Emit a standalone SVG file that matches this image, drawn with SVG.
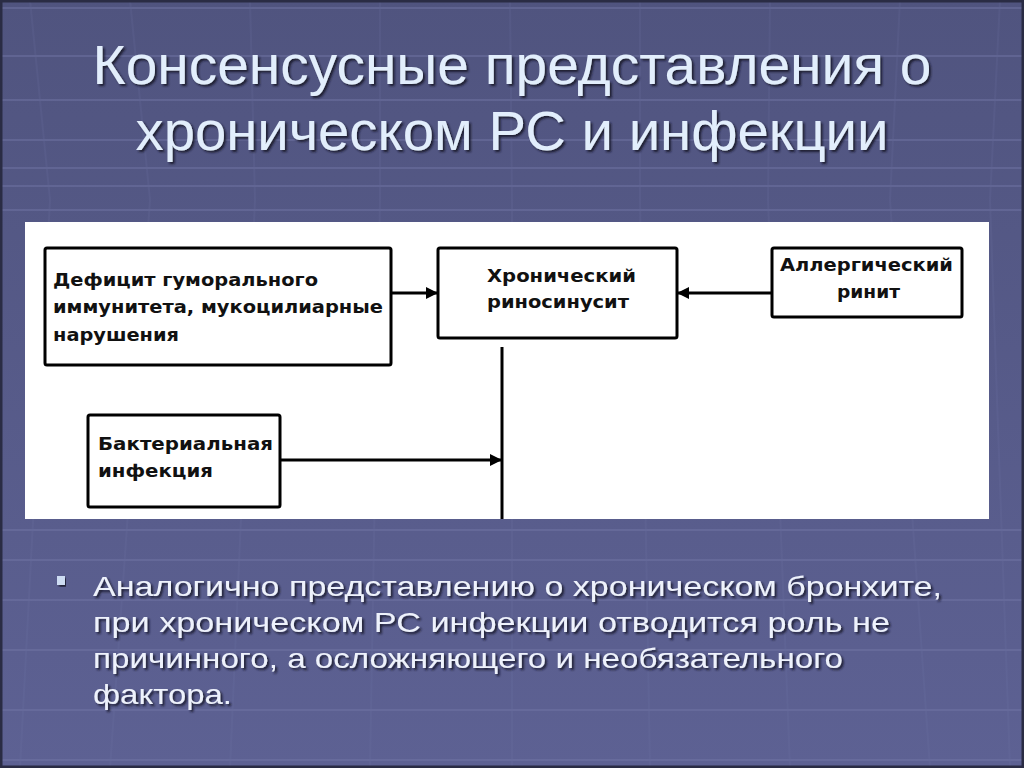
<svg xmlns="http://www.w3.org/2000/svg" width="1024" height="768" viewBox="0 0 1024 768">
<defs>
<linearGradient id="bg" x1="0" y1="0" x2="0" y2="1">
<stop offset="0" stop-color="#50547f"/>
<stop offset="1" stop-color="#5d6193"/>
</linearGradient>
<filter id="sh" x="-5%" y="-20%" width="110%" height="140%">
<feDropShadow dx="2" dy="2" stdDeviation="0.8" flood-color="#15152a" flood-opacity="0.9"/>
</filter>
<marker id="ah" viewBox="0 0 12 12" refX="11" refY="6" markerWidth="12" markerHeight="12" markerUnits="userSpaceOnUse" orient="auto">
<path d="M0,0 L12,6 L0,12 Z" fill="#000"/>
</marker>
<style>
.title{font-family:"Liberation Sans",Arial,sans-serif;font-size:56px;fill:#e2eefc;filter:url(#sh)}
.body{font-family:"Liberation Sans",Arial,sans-serif;font-size:28px;fill:#eef2fc;filter:url(#sh)}
.box{fill:#fff;stroke:#000;stroke-width:3;}
.lbl{font-family:"DejaVu Sans",Verdana,sans-serif;font-weight:bold;font-size:18px;fill:#111}
.conn{stroke:#000;stroke-width:3;fill:none}
.grid{stroke:#7478a8;stroke-width:2;opacity:0.45;fill:none}
</style>
</defs>
<rect x="0" y="0" width="1024" height="768" fill="url(#bg)"/>
<g class="grid">
<path d="M0,8H1024 M0,56H1024 M0,100H1024 M0,140H1024 M0,168H1024 M0,186H1024 M0,210H1024 M0,530H1024 M0,560H1024 M0,600H1024 M0,650H1024 M0,710H1024 M0,760H1024"/>
<path d="M30,0 L50,200 L20,768 M130,0 L150,200 L110,768 M250,0 L255,200 L230,768 M380,0 L380,200 L370,768 M510,0 L512,200 L512,768 M640,0 L640,200 L650,768 M770,0 L768,200 L790,768 M900,0 L890,200 L930,768 M1000,0 L990,200 L1010,768" opacity="0.35"/>
</g>
<rect x="1" y="1" width="1022" height="766" fill="none" stroke="#2a2c44" stroke-width="3"/>
<text class="title" x="512" y="84" text-anchor="middle" textLength="839" lengthAdjust="spacingAndGlyphs">Консенсусные представления о</text>
<text class="title" x="512" y="150" text-anchor="middle" textLength="753" lengthAdjust="spacingAndGlyphs">хроническом РС и инфекции</text>
<rect x="25" y="222" width="964" height="297" fill="#ffffff"/>
<g id="connectors">
<line class="conn" x1="391" y1="293" x2="437" y2="293" marker-end="url(#ah)"/>
<line class="conn" x1="772" y1="293" x2="678" y2="293" marker-end="url(#ah)"/>
<line class="conn" x1="502" y1="347" x2="502" y2="519"/>
<line class="conn" x1="280" y1="460" x2="501" y2="460" marker-end="url(#ah)"/>
</g>
<g id="node-deficit">
<rect class="box" x="45" y="248" width="346" height="117" rx="2"/>
<text class="lbl" x="53" y="286" textLength="265" lengthAdjust="spacingAndGlyphs">Дефицит гуморального</text>
<text class="lbl" x="53" y="313" textLength="330" lengthAdjust="spacingAndGlyphs">иммунитета, мукоцилиарные</text>
<text class="lbl" x="53" y="341" textLength="126" lengthAdjust="spacingAndGlyphs">нарушения</text>
</g>
<g id="node-crs">
<rect class="box" x="438" y="248" width="239" height="90" rx="2"/>
<text class="lbl" x="487" y="282" textLength="149" lengthAdjust="spacingAndGlyphs">Хронический</text>
<text class="lbl" x="487" y="308" textLength="142" lengthAdjust="spacingAndGlyphs">риносинусит</text>
</g>
<g id="node-allergy">
<rect class="box" x="772" y="248" width="190" height="69" rx="2"/>
<text class="lbl" x="780" y="271" textLength="173" lengthAdjust="spacingAndGlyphs">Аллергический</text>
<text class="lbl" x="837" y="298" textLength="63" lengthAdjust="spacingAndGlyphs">ринит</text>
</g>
<g id="node-bacterial">
<rect class="box" x="88" y="415" width="192" height="92" rx="2"/>
<text class="lbl" x="98" y="450" textLength="175" lengthAdjust="spacingAndGlyphs">Бактериальная</text>
<text class="lbl" x="98" y="477" textLength="115" lengthAdjust="spacingAndGlyphs">инфекция</text>
</g>
<rect x="57" y="576" width="8" height="9" fill="#cddcf2" filter="url(#sh)"/>
<text class="body" x="93" y="596" textLength="849" lengthAdjust="spacingAndGlyphs">Аналогично представлению о хроническом бронхите,</text>
<text class="body" x="93" y="632" textLength="797" lengthAdjust="spacingAndGlyphs">при хроническом РС инфекции отводится роль не</text>
<text class="body" x="93" y="668" textLength="750" lengthAdjust="spacingAndGlyphs">причинного, а осложняющего и необязательного</text>
<text class="body" x="93" y="704" textLength="139" lengthAdjust="spacingAndGlyphs">фактора.</text>
</svg>
